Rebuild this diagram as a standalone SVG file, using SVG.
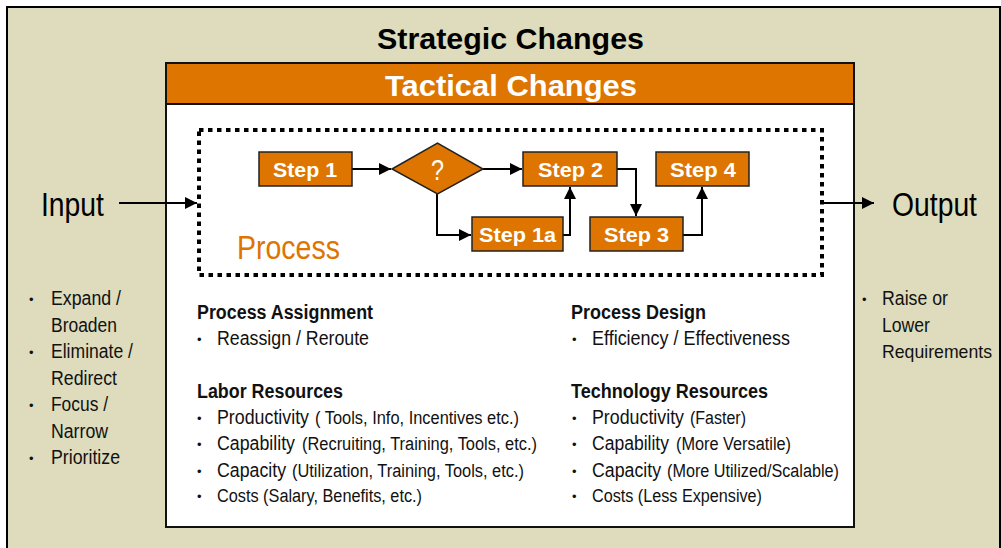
<svg xmlns="http://www.w3.org/2000/svg" width="1001" height="548" viewBox="0 0 1001 548">
  <style>
    text { font-family: "Liberation Sans", Arial, sans-serif; }
    .title { font-weight: bold; font-size: 30px; }
    .step { fill: #DE7500; stroke: #222; stroke-width: 1.5; }
    .steplabel { font-weight: bold; font-size: 21px; fill: #fff; }
    .conn { fill: none; stroke: #000; stroke-width: 2; }
    .body { font-size: 20px; fill: #111; }
    .small { font-size: 18px; fill: #111; }
    .head { font-size: 20px; font-weight: bold; fill: #111; }
    .big { font-size: 33px; fill: #000; }
    .dot { font-size: 13px; fill: #111; }
  </style>
  <defs>
    <marker id="arrow" viewBox="0 0 10 10" refX="10" refY="5" markerWidth="6" markerHeight="6" orient="auto" markerUnits="strokeWidth">
      <path d="M0,0 L10,5 L0,10 Z" fill="#000"/>
    </marker>
  </defs>

  <!-- strategic frame -->
  <g id="strategic">
    <rect x="7" y="7" width="993" height="550" fill="#DEDCBC" stroke="#000" stroke-width="2"/>
    <text class="title" x="377" y="49" fill="#000" textLength="267" lengthAdjust="spacingAndGlyphs">Strategic Changes</text>
  </g>

  <!-- tactical frame -->
  <g id="tactical">
    <rect x="166" y="63" width="688" height="464" fill="#fff" stroke="#111" stroke-width="2"/>
    <rect x="166" y="63" width="688" height="41" fill="#DE7500" stroke="#111" stroke-width="2"/>
    <text class="title" x="385" y="96" fill="#fff" textLength="252" lengthAdjust="spacingAndGlyphs">Tactical Changes</text>
  </g>

  <!-- process boundary -->
  <g id="process">
    <rect x="199" y="130" width="623" height="145" fill="none" stroke="#000" stroke-width="4" stroke-dasharray="4.5 4.5"/>
    <text class="big" x="237" y="259" style="fill:#DE7500" textLength="103" lengthAdjust="spacingAndGlyphs">Process</text>
  </g>

  <!-- connectors -->
  <g id="connectors">
    <path class="conn" d="M119,203 H197" marker-end="url(#arrow)"/>
    <path class="conn" d="M824,203 H874" marker-end="url(#arrow)"/>
    <path class="conn" d="M352,169 H391" marker-end="url(#arrow)"/>
    <path class="conn" d="M483,169 H522" marker-end="url(#arrow)"/>
    <path class="conn" d="M437,194 V235 H471" marker-end="url(#arrow)"/>
    <path class="conn" d="M563,235 H570 V187" marker-end="url(#arrow)"/>
    <path class="conn" d="M617,169 H636 V216" marker-end="url(#arrow)"/>
    <path class="conn" d="M683,235 H702 V187" marker-end="url(#arrow)"/>
  </g>

  <!-- steps -->
  <g id="step1">
    <rect class="step" x="259" y="152" width="93" height="34"/>
    <text class="steplabel" x="273" y="177" textLength="64" lengthAdjust="spacingAndGlyphs">Step 1</text>
  </g>
  <g id="decision">
    <polygon class="step" points="392,169 437.5,143 483,169 437.5,194"/>
    <text x="431" y="180" font-size="29" fill="#fff" textLength="13" lengthAdjust="spacingAndGlyphs">?</text>
  </g>
  <g id="step2">
    <rect class="step" x="523" y="152" width="94" height="34"/>
    <text class="steplabel" x="538" y="177" textLength="65" lengthAdjust="spacingAndGlyphs">Step 2</text>
  </g>
  <g id="step4">
    <rect class="step" x="656" y="152" width="93" height="34"/>
    <text class="steplabel" x="670" y="177" textLength="66" lengthAdjust="spacingAndGlyphs">Step 4</text>
  </g>
  <g id="step1a">
    <rect class="step" x="472" y="217" width="91" height="34"/>
    <text class="steplabel" x="479" y="242" textLength="77" lengthAdjust="spacingAndGlyphs">Step 1a</text>
  </g>
  <g id="step3">
    <rect class="step" x="590" y="217" width="93" height="34"/>
    <text class="steplabel" x="604" y="242" textLength="65" lengthAdjust="spacingAndGlyphs">Step 3</text>
  </g>

  <!-- input side -->
  <g id="input">
    <text class="big" x="41" y="216" textLength="63" lengthAdjust="spacingAndGlyphs">Input</text>
    <text class="dot" x="29" y="304">•</text><text class="body" x="51" y="305" textLength="70" lengthAdjust="spacingAndGlyphs">Expand /</text>
    <text class="body" x="51" y="332" textLength="66" lengthAdjust="spacingAndGlyphs">Broaden</text>
    <text class="dot" x="29" y="357">•</text><text class="body" x="51" y="358" textLength="82" lengthAdjust="spacingAndGlyphs">Eliminate /</text>
    <text class="body" x="51" y="385" textLength="66" lengthAdjust="spacingAndGlyphs">Redirect</text>
    <text class="dot" x="29" y="410">•</text><text class="body" x="51" y="411" textLength="57" lengthAdjust="spacingAndGlyphs">Focus /</text>
    <text class="body" x="51" y="438" textLength="57" lengthAdjust="spacingAndGlyphs">Narrow</text>
    <text class="dot" x="29" y="463">•</text><text class="body" x="51" y="464" textLength="69" lengthAdjust="spacingAndGlyphs">Prioritize</text>
  </g>

  <!-- output side -->
  <g id="output">
    <text class="big" x="892" y="216" textLength="85" lengthAdjust="spacingAndGlyphs">Output</text>
    <text class="dot" x="862" y="304">•</text><text class="body" x="882" y="305" textLength="66" lengthAdjust="spacingAndGlyphs">Raise or</text>
    <text class="body" x="882" y="332" textLength="48" lengthAdjust="spacingAndGlyphs">Lower</text>
    <text class="body" x="882" y="358" font-size="18.5" style="font-size:18.5px" textLength="110" lengthAdjust="spacingAndGlyphs">Requirements</text>
  </g>

  <!-- tactical levers, left column -->
  <g id="levers-left">
    <text class="head" x="197" y="319" textLength="176" lengthAdjust="spacingAndGlyphs">Process Assignment</text>
    <text class="dot" x="197" y="344">•</text><text class="body" x="217" y="345" textLength="152" lengthAdjust="spacingAndGlyphs">Reassign / Reroute</text>
    <text class="head" x="197" y="398" textLength="146" lengthAdjust="spacingAndGlyphs">Labor Resources</text>
    <text class="dot" x="197" y="423">•</text><text class="body" x="217" y="424" textLength="92" lengthAdjust="spacingAndGlyphs">Productivity</text>
    <text class="small" x="315" y="424" textLength="204" lengthAdjust="spacingAndGlyphs">( Tools, Info, Incentives etc.)</text>
    <text class="dot" x="197" y="449">•</text><text class="body" x="217" y="450" textLength="78" lengthAdjust="spacingAndGlyphs">Capability</text>
    <text class="small" x="302" y="450" textLength="235" lengthAdjust="spacingAndGlyphs">(Recruiting, Training, Tools, etc.)</text>
    <text class="dot" x="197" y="476">•</text><text class="body" x="217" y="477" textLength="69" lengthAdjust="spacingAndGlyphs">Capacity</text>
    <text class="small" x="292" y="477" textLength="232" lengthAdjust="spacingAndGlyphs">(Utilization, Training, Tools, etc.)</text>
    <text class="dot" x="197" y="501">•</text><text class="small" x="217" y="502" textLength="205" lengthAdjust="spacingAndGlyphs">Costs (Salary, Benefits, etc.)</text>
  </g>

  <!-- tactical levers, right column -->
  <g id="levers-right">
    <text class="head" x="571" y="319" textLength="135" lengthAdjust="spacingAndGlyphs">Process Design</text>
    <text class="dot" x="572" y="344">•</text><text class="body" x="592" y="345" textLength="198" lengthAdjust="spacingAndGlyphs">Efficiency / Effectiveness</text>
    <text class="head" x="571" y="398" textLength="197" lengthAdjust="spacingAndGlyphs">Technology Resources</text>
    <text class="dot" x="572" y="423">•</text><text class="body" x="592" y="424" textLength="92" lengthAdjust="spacingAndGlyphs">Productivity</text>
    <text class="small" x="690" y="424" textLength="56" lengthAdjust="spacingAndGlyphs">(Faster)</text>
    <text class="dot" x="572" y="449">•</text><text class="body" x="592" y="450" textLength="77" lengthAdjust="spacingAndGlyphs">Capability</text>
    <text class="small" x="676" y="450" textLength="115" lengthAdjust="spacingAndGlyphs">(More Versatile)</text>
    <text class="dot" x="572" y="476">•</text><text class="body" x="592" y="477" textLength="69" lengthAdjust="spacingAndGlyphs">Capacity</text>
    <text class="small" x="667" y="477" textLength="172" lengthAdjust="spacingAndGlyphs">(More Utilized/Scalable)</text>
    <text class="dot" x="572" y="501">•</text><text class="small" x="592" y="502" textLength="170" lengthAdjust="spacingAndGlyphs">Costs (Less Expensive)</text>
  </g>
</svg>
